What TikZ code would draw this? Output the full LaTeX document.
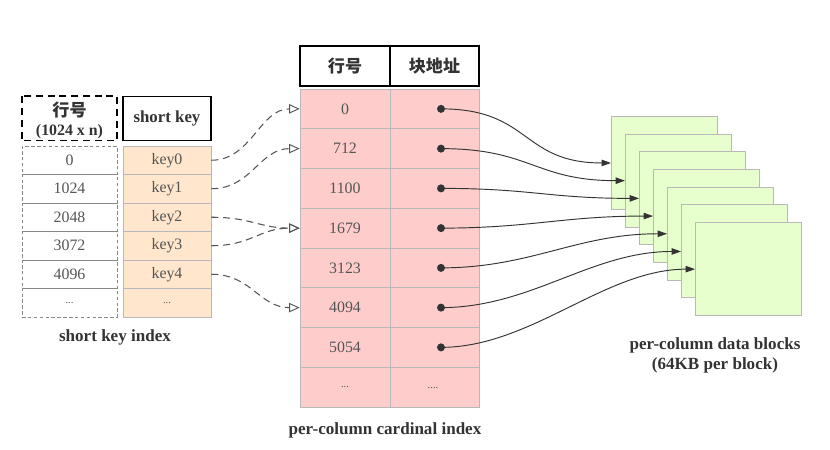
\documentclass[tikz,border=0pt]{standalone}
\usepackage{fontspec}
\setmainfont{Liberation Serif}
\newfontfamily\cjk{Noto Sans CJK SC}
\usetikzlibrary{arrows.meta}
\definecolor{numgray}{HTML}{555555}
\definecolor{labgray}{HTML}{333333}
\definecolor{pinkfill}{HTML}{FFCCCC}
\definecolor{peachfill}{HTML}{FFE6CC}
\definecolor{greenfill}{HTML}{E6FFCC}
\definecolor{cellline}{HTML}{B8B8B8}
\newcommand\mydots{{\fontsize{9}{10}\selectfont ...}}
\begin{document}
\begin{tikzpicture}[x=0.85pt,y=-0.85pt,
  txt/.style={font=\fontsize{13.5}{15}\selectfont},
  numcell/.style={txt, text=numgray, inner sep=0pt, minimum width={#1*0.85pt}},
  lcell/.style={numcell=95, minimum height={28.5*0.85pt}, draw=numgray!70, densely dashed, line width=0.6pt},
  kcell/.style={numcell=88, minimum height={28.5*0.85pt}, draw=cellline, fill=peachfill, line width=0.6pt},
  mcellA/.style={numcell=90, minimum height={40*0.85pt}, draw=cellline, fill=pinkfill, line width=0.6pt},
  mcellB/.style={numcell=89, minimum height={40*0.85pt}, draw=cellline, fill=pinkfill, line width=0.6pt},
  hdr/.style={draw=black, line width=1.3pt, fill=white, inner sep=0pt, text=labgray},
  dotm/.style={circle, fill=labgray, inner sep=0pt, minimum size={8*0.85pt}},
  block/.style={draw=cellline, fill=greenfill, line width=0.8pt, anchor=north west, inner sep=0pt, minimum width={106*0.85pt}, minimum height={93*0.85pt}},
  keyarrow/.style={draw=numgray, dash pattern=on 6pt off 4pt, line width=0.9pt, -{Triangle[open, length=9pt, width=8pt, line width=0.8pt]}},
  ptrarrow/.style={draw=labgray, line width=0.8pt, -{Triangle[length=8pt, width=5.5pt]}},
  lab/.style={font=\fontsize{14.5}{17}\selectfont\bfseries, text=labgray, align=center}
]
\useasboundingbox (0,0) rectangle (830,450);

% ---------- short key index ----------
\node[draw=none, fill=none, inner sep=0pt, minimum width={95*0.85pt}, minimum height={44*0.85pt}] (lh) at (69.5,118.5) {};
\draw[black, line width=1.3pt, dash pattern=on 6pt off 4pt] (lh.north west) rectangle (lh.south east);
\node[text=labgray, font=\cjk\bfseries\fontsize{14.5}{16}\selectfont] (lhA) at (69.5,110) {行号};
\node[lab, font=\fontsize{13.5}{15}\selectfont\bfseries] (lhB) at (69.5,132) {(1024 x n)};
\node[hdr, minimum width={88*0.85pt}, minimum height={44*0.85pt}, font=\fontsize{14.3}{16}\selectfont\bfseries] (kh) at (167,118.5) {short key};

\foreach \v/\k [count=\i] in {0/key0,1024/key1,2048/key2,3072/key3,4096/key4,\mydots/\mydots}{
  \node[lcell] (l\i) at (69.5,{146+28.5*(\i-0.5)}) {\v};
  \node[kcell] (k\i) at (167,{146+28.5*(\i-0.5)}) {\k};
}
\node[lab] (lblA) at (115,337) {short key index};

% ---------- per-column cardinal index ----------
\node[hdr, minimum width={90*0.85pt}, minimum height={40*0.85pt}, font=\cjk\bfseries\fontsize{14.5}{16}\selectfont] (mh1) at (345,66) {行号};
\node[hdr, minimum width={89*0.85pt}, minimum height={40*0.85pt}, font=\cjk\bfseries\fontsize{14.5}{16}\selectfont] (mh2) at (434.5,66) {块地址};

\foreach \v [count=\i] in {0,712,1100,1679,3123,4094,5054,\mydots}{
  \node[mcellA] (m\i) at (345,{89+39.75*(\i-0.5)}) {\v};
  \node[mcellB] (n\i) at (434.5,{89+39.75*(\i-0.5)}) {};
}
\node[text=numgray, inner sep=0pt] (n8t) at (433,388) {\fontsize{9}{10}\selectfont ....};
\foreach \i in {1,...,7}{
  \node[dotm] (d\i) at (441,{89+39.75*(\i-0.5)}) {};
}
\node[lab] (lblB) at (385,430) {per-column cardinal index};

% ---------- data blocks ----------
\foreach \i in {1,...,7}{
  \node[block] (b\i) at ({611+14*(\i-1)},{116+17.7*(\i-1)}) {};
}
\node[lab] (lblC) at (715,355) {per-column data blocks\\(64KB per block)};

% ---------- connectors ----------
\draw[keyarrow] (k1.east) .. controls +(40,0) and +(-40,0) .. (m1.west);
\draw[keyarrow] (k2.east) .. controls +(40,0) and +(-40,0) .. (m2.west);
\draw[keyarrow] (k3.east) .. controls +(40,0) and +(-40,0) .. (m4.west);
\draw[keyarrow] (k4.east) .. controls +(40,0) and +(-40,0) .. (m4.west);
\draw[keyarrow] (k5.east) .. controls +(40,0) and +(-40,0) .. (m6.west);

\foreach \i in {1,...,7}{
  \draw[ptrarrow] (d\i.center) .. controls +(90,0) and +(-90,0) .. (b\i.west);
}
\end{tikzpicture}
\end{document}
